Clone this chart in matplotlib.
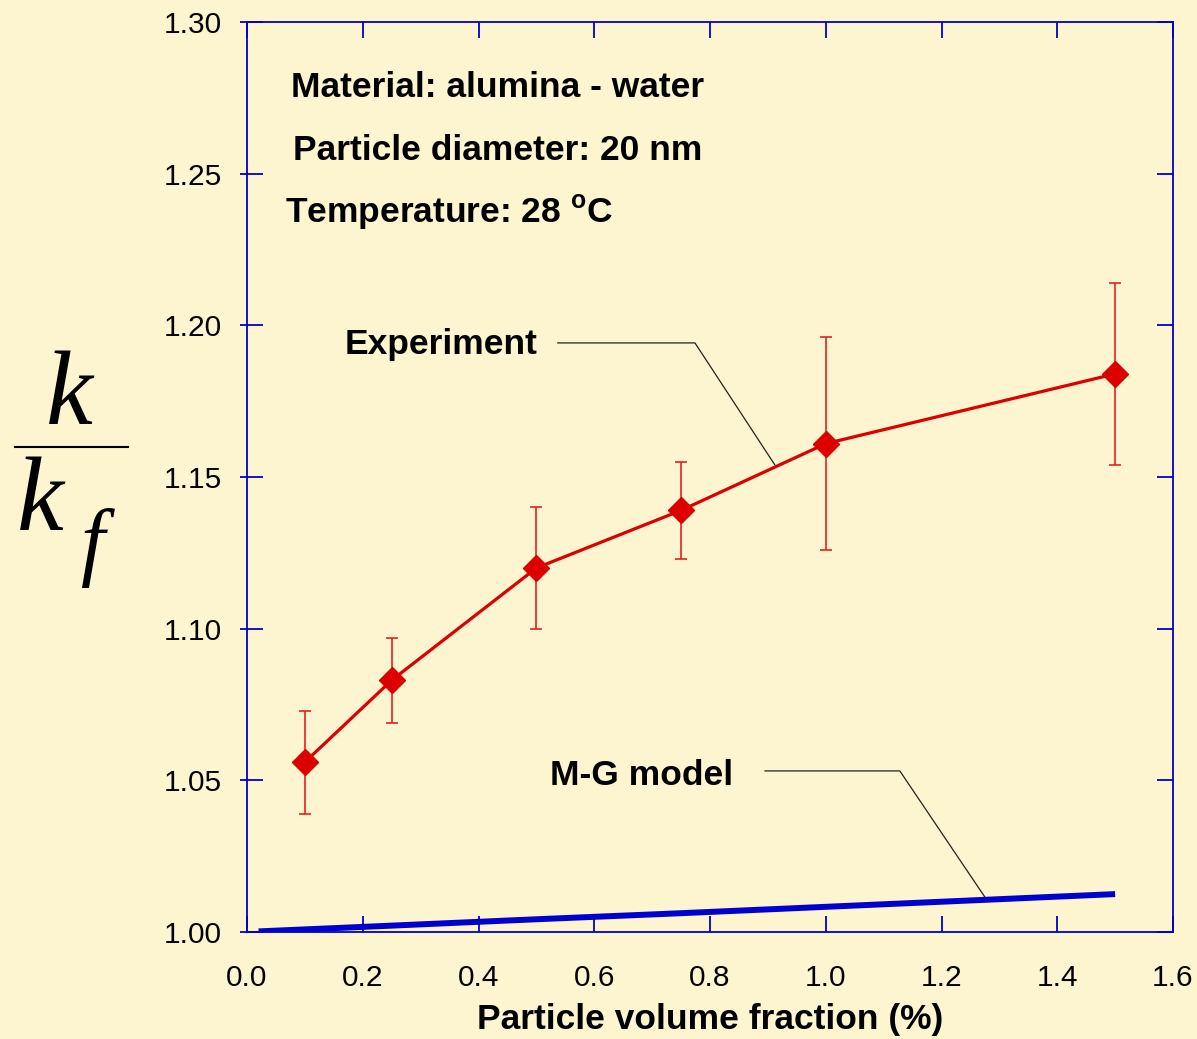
import matplotlib
matplotlib.use("Agg")
import matplotlib.pyplot as plt
from matplotlib.lines import Line2D

# Measured thermal conductivity ratio, alumina-water nanofluid
phi_exp = [0.1, 0.25, 0.5, 0.75, 1.0, 1.5]
k_ratio_exp = [1.056, 1.083, 1.120, 1.139, 1.161, 1.184]
k_err = [0.017, 0.014, 0.020, 0.016, 0.035, 0.030]

# Maxwell-Garnett prediction
phi_mg = [0.02, 0.25, 0.5, 0.75, 1.0, 1.25, 1.5]
k_ratio_mg = [1.0002, 1.0021, 1.0042, 1.0062, 1.0083, 1.0104, 1.0125]

x_ticks = [0.0, 0.2, 0.4, 0.6, 0.8, 1.0, 1.2, 1.4, 1.6]
y_ticks = [1.00, 1.05, 1.10, 1.15, 1.20, 1.25, 1.30]

BG = "#fdf5d0"
AXIS_BLUE = "#0000cc"
RED = "#dd0000"
MG_BLUE = "#0000d0"

plt.rcParams["font.family"] = ["Liberation Sans", "DejaVu Sans"]
plt.rcParams["mathtext.fontset"] = "custom"
plt.rcParams["mathtext.rm"] = "Liberation Sans:bold"
plt.rcParams["mathtext.bf"] = "Liberation Sans:bold"

fig = plt.figure(figsize=(11.97, 10.39), dpi=100, facecolor=BG)
ax = fig.add_axes([247 / 1197, 1 - 932 / 1039, (1173 - 247) / 1197, (932 - 22) / 1039])
ax.set_facecolor(BG)

ax.plot(phi_mg, k_ratio_mg, color=MG_BLUE, lw=4.3, solid_capstyle="butt", zorder=3)
ax.errorbar(phi_exp, k_ratio_exp, yerr=k_err, fmt="none", ecolor="#e42222",
            elinewidth=1.2, capsize=4.5, capthick=1.2, zorder=3)
ax.plot(phi_exp, k_ratio_exp, color=RED, lw=2.3, marker="D", ms=13.5,
        markerfacecolor=RED, markeredgecolor=RED, zorder=4)

ax.set_xlim(0, 1.6)
ax.set_ylim(1.0, 1.3)
ax.set_xticks(x_ticks)
ax.set_xticklabels([f"{v:.1f}" for v in x_ticks])
ax.set_yticks(y_ticks)
ax.set_yticklabels([f"{v:.2f}" for v in y_ticks])

for s in ax.spines.values():
    s.set_color(AXIS_BLUE)
    s.set_linewidth(1.3)
ax.tick_params(axis="both", which="major", direction="in", length=11.5, width=1.3,
               color=AXIS_BLUE, labelsize=21.5, labelcolor="black",
               top=True, right=True)
ax.tick_params(axis="x", pad=23)
ax.tick_params(axis="y", pad=18)

# short outward ticks on the left spine
sec = ax.secondary_yaxis("left")
sec.set_yticks(y_ticks)
sec.tick_params(direction="out", length=5, width=1.3, color=AXIS_BLUE, labelleft=False)
sec.spines["left"].set_visible(False)

ax.set_xlabel("Particle volume fraction (%)", fontsize=25.5, fontweight="bold", labelpad=8)

# annotation block
ax.text(0.433, 1.2784, "Material: alumina - water", fontsize=25.5, fontweight="bold",
        ha="center", va="center")
ax.text(0.434, 1.2576, "Particle diameter: 20 nm", fontsize=25.5, fontweight="bold",
        ha="center", va="center")
ax.text(0.066, 1.2372, r"Temperature: 28 $^{\mathrm{o}}$C", fontsize=25.5,
        fontweight="bold", ha="left", va="center")

# series labels with leader lines
ax.text(0.169, 1.1938, "Experiment", fontsize=25.5, fontweight="bold",
        ha="left", va="center")
ax.add_line(Line2D([0.537, 0.774, 0.912], [1.1942, 1.1942, 1.154],
                   color="#222222", lw=0.9, zorder=5))
ax.text(0.523, 1.0517, "M-G model", fontsize=25.5, fontweight="bold",
        ha="left", va="center")
ax.add_line(Line2D([0.895, 1.128, 1.275], [1.0531, 1.0531, 1.0115],
                   color="#222222", lw=0.9, zorder=5))

# y-axis quantity drawn as a fraction k / k_f
serif = ["Liberation Serif", "DejaVu Serif"]
fig.text(69 / 1197, 1 - 424 / 1039, "k", fontsize=76, family=serif, style="italic",
         ha="center", va="baseline")
fig.add_artist(Line2D([15 / 1197, 128 / 1197], [1 - 447 / 1039, 1 - 447 / 1039],
                      transform=fig.transFigure, color="black", lw=1.5))
fig.text(40 / 1197, 1 - 530 / 1039, "k", fontsize=76, family=serif, style="italic",
         ha="center", va="baseline")
fig.text(92 / 1197, 1 - 569 / 1039, "f", fontsize=62, family=serif, style="italic",
         ha="center", va="baseline")

fig.savefig("out.png", dpi=100, facecolor=BG)
